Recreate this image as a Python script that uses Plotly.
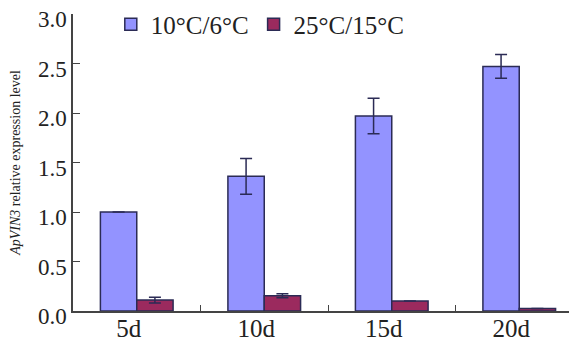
import plotly.graph_objects as go

categories = ["5d", "10d", "15d", "20d"]
cold_values = [1.0, 1.36, 1.97, 2.47]
cold_errors = [0.0, 0.18, 0.18, 0.12]
warm_values = [0.11, 0.155, 0.10, 0.025]
warm_errors = [0.03, 0.02, 0.0, 0.0]
series_names = ["10°C/6°C", "25°C/15°C"]

font_family = "Liberation Serif"
edge = "#2b2b55"

fig = go.Figure()
fig.add_trace(go.Bar(
    x=categories, y=cold_values, name=series_names[0],
    marker=dict(color="#9393ff", line=dict(color=edge, width=1.5)),
    error_y=dict(type="data", array=cold_errors, color=edge, thickness=1.5, width=6),
))
fig.add_trace(go.Bar(
    x=categories, y=warm_values, name=series_names[1],
    marker=dict(color="#9b2a5e", line=dict(color=edge, width=1.5)),
    error_y=dict(type="data", array=warm_errors, color=edge, thickness=1.5, width=6),
))

# page body has an 8px default margin, so the figure is sized to fit the window
fig.update_layout(
    width=569, height=334,
    margin=dict(l=65, r=0, t=6, b=31, autoexpand=False),
    paper_bgcolor="white", plot_bgcolor="white",
    barmode="group", bargap=0.43, bargroupgap=0,
    font=dict(family=font_family, color="#222222"),
    showlegend=True,
    legend=dict(
        orientation="h", x=0.075, y=0.965, xanchor="left", yanchor="middle",
        font=dict(size=25, family=font_family, color="#222222"),
        bgcolor="rgba(0,0,0,0)", itemwidth=30, tracegroupgap=0,
    ),
    xaxis=dict(
        range=[-0.5, 3.453], showline=True, linecolor="#444444", linewidth=1.5,
        ticks="inside", tickson="boundaries", ticklen=6, tickcolor="#444444",
        tickfont=dict(size=25, family=font_family, color="#222222"),
        ticklabelshift=-8, ticklabelstandoff=-6, showgrid=False, zeroline=False,
    ),
    yaxis=dict(
        range=[0, 3.0], tickvals=[0, 0.5, 1.0, 1.5, 2.0, 2.5, 3.0],
        ticktext=["0.0", "0.5", "1.0", "1.5", "2.0", "2.5", "3.0"],
        showline=True, linecolor="#444444", linewidth=1.5,
        ticks="inside", ticklen=7, tickcolor="#444444",
        tickfont=dict(size=23, family=font_family, color="#222222"),
        ticklabelshift=5, ticklabeloverflow="allow",
        showgrid=False, zeroline=False,
        title=dict(text="<i>ApVIN3</i> relative expression level",
                   font=dict(size=14, family=font_family, color="#222222"), standoff=14),
    ),
)

fig.write_html("out.html")
